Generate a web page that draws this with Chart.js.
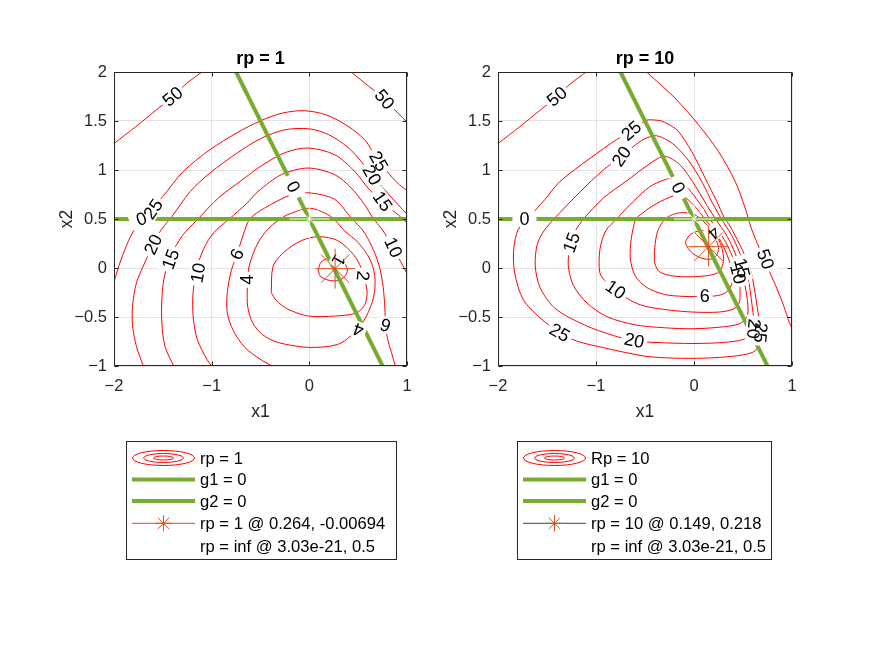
<!DOCTYPE html>
<html>
<head>
<meta charset="utf-8">
<script src="https://cdn.jsdelivr.net/npm/chart.js@4.4.1/dist/chart.umd.min.js"></script>
<style>
  html, body { margin: 0; padding: 0; background: #fff; }
  #wrap { position: relative; width: 875px; height: 656px; }
  canvas { position: absolute; top: 0; }
</style>
</head>
<body>
<div id="wrap">
  <canvas id="left" width="437" height="656" style="left:0"></canvas>
  <canvas id="right" width="438" height="656" style="left:437px"></canvas>
</div>
<script>
// Penalty-function contours, rp = 1 (left) and rp = 10 (right)

const X_TICKS = [-2, -1, 0, 1];
const Y_TICKS = [-1, -0.5, 0, 0.5, 1, 1.5, 2];

// constraint lines g1 = 0 and g2 = 0 (end points)
const g1Line = [[-0.75, 2], [0.75, -1]];
const g2Line = [[-2, 0.5], [1, 0.5]];

// optimum points
const rp1Opt = [0.264, -0.00694];
const rp10Opt = [0.149, 0.218];
const infOpt = [3.03e-21, 0.5];

// contour lines, rp = 1
const rp1Level1 = [[0.09,-0.02],[0.12,0.06],[0.20,0.10],[0.29,0.09],[0.36,0.05],[0.39,-0.02],[0.36,-0.09],[0.28,-0.13],[0.18,-0.12],[0.11,-0.08],[0.09,-0.02]];
const rp1Level2 = [[-0.39,-0.25],[-0.37,0.02],[-0.25,0.17],[-0.08,0.28],[0.10,0.32],[0.29,0.28],[0.45,0.14],[0.53,0.0],[0.59,-0.23],[0.57,-0.37],[0.48,-0.46],[0.26,-0.49],[-0.01,-0.49],[-0.22,-0.42],[-0.34,-0.33],[-0.39,-0.25]];
const rp1Level4 = [[-0.30,0.50],[-0.40,0.42],[-0.50,0.30],[-0.57,0.16],[-0.62,0.0],[-0.635,-0.20],[-0.63,-0.40],[-0.58,-0.56],[-0.48,-0.68],[-0.32,-0.76],[-0.01,-0.81],[0.29,-0.78],[0.46,-0.66],[0.58,-0.50],[0.66,-0.29],[0.67,-0.08],[0.62,0.09],[0.50,0.26],[0.36,0.38],[0.27,0.48],[0.19,0.545],[0.0,0.61],[-0.22,0.545],[-0.30,0.50]];
const rp1Level6 = [[-0.38,-1.0],[-0.505,-0.93],[-0.66,-0.81],[-0.778,-0.64],[-0.84,-0.46],[-0.84,-0.25],[-0.80,-0.03],[-0.74,0.14],[-0.68,0.33],[-0.61,0.50],[-0.46,0.61],[-0.18,0.75],[0.02,0.765],[0.26,0.70],[0.43,0.51],[0.55,0.38],[0.64,0.22],[0.71,0.04],[0.75,-0.15],[0.77,-0.35],[0.78,-0.55],[0.80,-0.72],[0.84,-0.86],[0.88,-1.0]];
const rp1Level10 = [[-1.0,-1.0],[-1.05,-0.93],[-1.147,-0.73],[-1.19,-0.49],[-1.19,-0.25],[-1.15,0.0],[-1.08,0.2],[-0.98,0.36],[-0.82,0.50],[-0.64,0.66],[-0.526,0.78],[-0.287,0.952],[-0.014,1.02],[0.26,0.952],[0.43,0.816],[0.566,0.646],[0.652,0.51],[0.74,0.40],[0.80,0.31],[0.86,0.21],[0.91,0.11],[0.96,0.02],[1.0,-0.06]];
const rp1Level15 = [[-1.39,-1.0],[-1.478,-0.80],[-1.51,-0.56],[-1.51,-0.32],[-1.49,-0.12],[-1.43,0.10],[-1.30,0.33],[-1.14,0.50],[-0.925,0.72],[-0.70,0.89],[-0.48,1.05],[-0.24,1.18],[-0.014,1.224],[0.26,1.156],[0.464,0.986],[0.60,0.816],[0.70,0.72],[0.80,0.63],[0.908,0.544],[1.0,0.46]];
const rp1Level20 = [[-1.70,-1.0],[-1.77,-0.80],[-1.81,-0.59],[-1.81,-0.39],[-1.77,-0.15],[-1.70,0.02],[-1.60,0.24],[-1.51,0.40],[-1.41,0.52],[-1.22,0.78],[-1.017,0.97],[-0.744,1.17],[-0.50,1.32],[-0.25,1.41],[0.0,1.42],[0.20,1.36],[0.396,1.23],[0.53,1.088],[0.64,0.95],[0.77,0.80],[0.908,0.646],[1.0,0.55]];
const rp1Level25 = [[-2.0,-0.14],[-1.93,0.08],[-1.85,0.28],[-1.77,0.43],[-1.70,0.52],[-1.60,0.62],[-1.50,0.73],[-1.29,0.986],[-1.017,1.207],[-0.744,1.378],[-0.505,1.50],[-0.28,1.58],[-0.05,1.605],[0.18,1.56],[0.396,1.446],[0.566,1.31],[0.635,1.207],[0.71,1.09],[0.80,0.98],[0.90,0.87],[1.0,0.79]];
const rp1Level50a = [[-2.0,1.27],[-1.78,1.44],[-1.57,1.61],[-1.40,1.75],[-1.26,1.88],[-1.10,2.0]];
const rp1Level50b = [[0.43,2.0],[0.566,1.888],[0.652,1.82],[0.77,1.72],[0.908,1.58],[1.0,1.49]];

// contour lines, rp = 10
const rp10Level2 = [[-0.09,0.26],[-0.05,0.33],[0.02,0.37],[0.09,0.38],[0.16,0.35],[0.22,0.29],[0.25,0.21],[0.23,0.13],[0.17,0.09],[0.08,0.10],[0.0,0.14],[-0.06,0.20],[-0.09,0.26]];
const rp10Level4 = [[-0.30,0.50],[-0.37,0.38],[-0.40,0.21],[-0.40,0.05],[-0.35,-0.04],[-0.22,-0.08],[-0.05,-0.09],[0.12,-0.08],[0.24,-0.05],[0.29,0.02],[0.30,0.12],[0.27,0.25],[0.20,0.36],[0.13,0.44],[0.06,0.51],[-0.02,0.555],[-0.12,0.565],[-0.22,0.545],[-0.30,0.50]];
const rp10Level6 = [[-0.60,0.50],[-0.64,0.30],[-0.65,0.10],[-0.60,-0.08],[-0.48,-0.20],[-0.30,-0.27],[-0.10,-0.29],[0.11,-0.29],[0.25,-0.28],[0.34,-0.24],[0.39,-0.15],[0.39,-0.03],[0.35,0.10],[0.28,0.26],[0.19,0.40],[0.11,0.50],[0.05,0.58],[-0.03,0.67],[-0.12,0.74],[-0.18,0.745],[-0.30,0.70],[-0.46,0.61],[-0.60,0.50]];
const rp10Level10 = [[-0.79,0.50],[-0.90,0.38],[-0.96,0.19],[-0.96,-0.05],[-0.89,-0.15],[-0.80,-0.22],[-0.65,-0.33],[-0.50,-0.39],[-0.25,-0.43],[0.0,-0.45],[0.25,-0.45],[0.40,-0.42],[0.46,-0.36],[0.47,-0.24],[0.46,-0.10],[0.43,0.0],[0.39,0.12],[0.32,0.27],[0.23,0.41],[0.16,0.50],[0.10,0.60],[0.03,0.70],[-0.05,0.80],[-0.14,0.88],[-0.22,0.91],[-0.30,0.90],[-0.45,0.83],[-0.62,0.68],[-0.79,0.50]];
const rp10Level15 = [[-1.13,0.50],[-1.21,0.38],[-1.25,0.26],[-1.28,0.12],[-1.28,0.0],[-1.23,-0.18],[-1.09,-0.36],[-0.88,-0.50],[-0.60,-0.58],[-0.30,-0.61],[0.0,-0.62],[0.30,-0.60],[0.46,-0.57],[0.54,-0.50],[0.55,-0.38],[0.52,-0.18],[0.47,0.0],[0.42,0.15],[0.34,0.32],[0.22,0.50],[0.15,0.61],[0.06,0.76],[-0.04,0.92],[-0.14,1.05],[-0.22,1.11],[-0.30,1.14],[-0.365,1.12],[-0.50,1.03],[-0.686,0.89],[-0.925,0.714],[-1.13,0.50]];
const rp10Level20 = [[-1.43,0.50],[-1.53,0.38],[-1.60,0.24],[-1.62,0.02],[-1.57,-0.20],[-1.42,-0.41],[-1.12,-0.58],[-0.82,-0.69],[-0.61,-0.74],[-0.40,-0.76],[0.0,-0.77],[0.30,-0.76],[0.50,-0.73],[0.59,-0.67],[0.61,-0.55],[0.59,-0.36],[0.56,-0.15],[0.52,0.0],[0.46,0.17],[0.38,0.34],[0.28,0.50],[0.19,0.66],[0.08,0.88],[-0.058,1.10],[-0.195,1.25],[-0.30,1.32],[-0.40,1.35],[-0.536,1.30],[-0.74,1.14],[-0.925,1.00],[-1.16,0.78],[-1.43,0.50]];
const rp10Level25 = [[-1.70,0.50],[-1.52,0.70],[-1.37,0.88],[-1.06,1.12],[-0.79,1.31],[-0.64,1.40],[-0.485,1.507],[-0.40,1.51],[-0.331,1.50],[-0.25,1.46],[-0.16,1.395],[-0.024,1.19],[0.113,0.918],[0.232,0.68],[0.31,0.51],[0.36,0.44],[0.42,0.33],[0.50,0.17],[0.57,0.0],[0.60,-0.12],[0.63,-0.30],[0.66,-0.50],[0.68,-0.66],[0.67,-0.78],[0.60,-0.86],[0.40,-0.90],[0.10,-0.92],[-0.20,-0.92],[-0.50,-0.90],[-0.925,-0.813],[-1.198,-0.745],[-1.37,-0.66],[-1.573,-0.507],[-1.744,-0.32],[-1.83,-0.05],[-1.84,0.19],[-1.795,0.39],[-1.70,0.50]];
const rp10Level50a = [[-2.0,1.27],[-1.78,1.44],[-1.57,1.61],[-1.40,1.75],[-1.26,1.88],[-1.10,2.0]];
const rp10Level50b = [[-0.485,2.0],[-0.195,1.735],[0.044,1.463],[0.249,1.19],[0.42,0.884],[0.522,0.612],[0.58,0.42],[0.65,0.24],[0.72,0.08],[0.78,-0.06],[0.85,-0.22],[0.92,-0.40],[0.97,-0.55],[1.0,-0.62]];

// contour labels: text, x, y, angle (deg), extra gap
const rp1Labels = [
  ['50', -1.40, 1.75, -40], ['50', 0.77, 1.72, 50], ['25', 0.71, 1.09, 60], ['20', 0.64, 0.95, 60],
  ['15', 0.75, 0.68, 55], ['10', 0.86, 0.21, 65], ['6', 0.78, -0.58, 200], ['4', 0.50, -0.63, 200],
  ['2', 0.55, -0.08, 95], ['1', 0.30, 0.08, 120], ['4', -0.64, -0.12, -90], ['6', -0.74, 0.14, -65],
  ['10', -1.14, -0.05, -80], ['15', -1.42, 0.09, -70], ['20', -1.60, 0.24, -65], ['25', -1.60, 0.60, -55],
  ['0', -1.72, 0.50, -20, 7], ['0', -0.165, 0.83, 63, 7]
];
const rp10Labels = [
  ['50', -1.40, 1.75, -40], ['25', -0.64, 1.40, -40], ['20', -0.74, 1.14, -55], ['15', -1.25, 0.26, -70],
  ['10', -0.80, -0.22, 35], ['25', -1.37, -0.66, 30], ['20', -0.61, -0.74, 12], ['6', 0.11, -0.29, 0],
  ['4', 0.20, 0.36, 140], ['15', 0.49, 0.0, 75], ['10', 0.45, -0.06, 75], ['50', 0.73, 0.09, 70],
  ['20', 0.61, -0.62, 95], ['25', 0.68, -0.66, 95], ['0', -1.73, 0.50, 0, 7], ['0', -0.16, 0.82, 63, 7]
];

const rp1Legend = ['rp = 1', 'g1 = 0', 'g2 = 0', 'rp = 1 @ 0.264, -0.00694', 'rp = inf @ 3.03e-21, 0.5'];
const rp10Legend = ['Rp = 10', 'g1 = 0', 'g2 = 0', 'rp = 10 @ 0.149, 0.218', 'rp = inf @ 3.03e-21, 0.5'];

const FONT = '"Liberation Sans", Arial, Helvetica, sans-serif';
const RED = '#ff0000', GREEN = '#77ac30', ORANGE = '#d95319', AXIS = '#262626';

const toXY = pts => pts.map(p => ({ x: p[0], y: p[1] }));
const fmt = v => (v < 0 ? '\u2212' + Math.abs(v) : String(v));

function drawLabels(chart, list) {
  const ctx = chart.ctx, sx = chart.scales.x, sy = chart.scales.y;
  ctx.save();
  ctx.font = '18px ' + FONT;
  ctx.textAlign = 'center';
  ctx.textBaseline = 'middle';
  const items = list.map(([t, x, y, ang, pad]) => ({
    t, px: sx.getPixelForValue(x), py: sy.getPixelForValue(y),
    r: ang * Math.PI / 180, w: ctx.measureText(t).width + 2 * (pad || 3)
  }));
  // white gaps first, then the numbers
  items.forEach(it => {
    ctx.save(); ctx.translate(it.px, it.py); ctx.rotate(it.r);
    ctx.fillStyle = '#fff'; ctx.fillRect(-it.w / 2, -8, it.w, 16);
    ctx.restore();
  });
  items.forEach(it => {
    ctx.save(); ctx.translate(it.px, it.py); ctx.rotate(it.r);
    ctx.fillStyle = '#000'; ctx.fillText(it.t, 0, 1);
    ctx.restore();
  });
  ctx.restore();
}

function starPath(ctx, x, y, r) {
  const d = r * Math.SQRT1_2;
  ctx.beginPath();
  ctx.moveTo(x - r, y); ctx.lineTo(x + r, y);
  ctx.moveTo(x, y - r); ctx.lineTo(x, y + r);
  ctx.moveTo(x - d, y - d); ctx.lineTo(x + d, y + d);
  ctx.moveTo(x - d, y + d); ctx.lineTo(x + d, y - d);
  ctx.stroke();
}

function drawLegend(ctx, box, texts, lineColor) {
  const rows = [458, 479.5, 501, 523.3, 546];
  const ix0 = box.x + 6, ix1 = box.x + 69, icx = (ix0 + ix1) / 2;
  ctx.save();
  ctx.fillStyle = '#fff';
  ctx.fillRect(box.x, box.y, box.w, box.h);
  ctx.strokeStyle = AXIS; ctx.lineWidth = 1;
  ctx.strokeRect(box.x + 0.5, box.y + 0.5, box.w, box.h);
  // contour icon
  ctx.strokeStyle = RED;
  [[31, 7.5], [20, 4.5], [10, 2]].forEach(([rx, ry]) => {
    ctx.beginPath(); ctx.ellipse(icx, rows[0], rx, ry, 0, 0, Math.PI * 2); ctx.stroke();
  });
  // constraint lines
  ctx.strokeStyle = GREEN; ctx.lineWidth = 4;
  [rows[1], rows[2]].forEach(y => { ctx.beginPath(); ctx.moveTo(ix0, y); ctx.lineTo(ix1, y); ctx.stroke(); });
  // optimum marker
  ctx.lineWidth = 1; ctx.strokeStyle = lineColor;
  ctx.beginPath(); ctx.moveTo(ix0, rows[3]); ctx.lineTo(ix1, rows[3]); ctx.stroke();
  ctx.strokeStyle = ORANGE;
  starPath(ctx, icx, rows[3], 8);
  ctx.fillStyle = '#000';
  ctx.font = '16.6px ' + FONT;
  ctx.textAlign = 'left'; ctx.textBaseline = 'middle';
  texts.forEach((t, i) => ctx.fillText(t, box.x + 74, rows[i] + 1));
  ctx.restore();
}

function makeChart(id, cfg) {
  const datasets = cfg.contours.map(c => ({
    data: toXY(c), showLine: true, borderColor: RED, borderWidth: 1,
    pointRadius: 0, tension: 0.3, fill: false, order: 10
  }));
  datasets.push({ tag: 'g2', data: toXY(g2Line), showLine: true, borderColor: GREEN, borderWidth: 4, pointRadius: 0, order: 6 });
  datasets.push({ tag: 'g1', data: toXY(g1Line), showLine: true, borderColor: GREEN, borderWidth: 4, pointRadius: 0, order: 5 });
  datasets.push({ data: toXY([cfg.opt]), showLine: false, pointStyle: 'star', pointRadius: 20,
    pointBorderColor: ORANGE, pointBackgroundColor: ORANGE, pointBorderWidth: 1, order: 2 });
  datasets.push({ data: toXY([infOpt]), showLine: false, pointStyle: 'star', pointRadius: 20,
    pointBorderColor: '#ffffff', pointBackgroundColor: '#ffffff', pointBorderWidth: 1, order: 1 });

  const decor = {
    id: 'decor',
    afterDatasetDraw(chart, args) {
      if (chart.data.datasets[args.index].tag === 'g1') drawLabels(chart, cfg.labels);
    },
    afterDraw(chart) {
      const ctx = chart.ctx, a = chart.chartArea, sx = chart.scales.x, sy = chart.scales.y;
      ctx.save();
      ctx.strokeStyle = AXIS; ctx.lineWidth = 1;
      const L = Math.round(a.left) + 0.5, R = Math.round(a.right) - 0.5;
      const T = Math.round(a.top) + 0.5, B = Math.round(a.bottom) - 0.5;
      ctx.strokeRect(L, T, R - L, B - T);
      ctx.beginPath();
      X_TICKS.forEach(v => {
        const p = Math.round(sx.getPixelForValue(v)) + 0.5;
        ctx.moveTo(p, B); ctx.lineTo(p, B - 4);
        ctx.moveTo(p, T); ctx.lineTo(p, T + 4);
      });
      Y_TICKS.forEach(v => {
        const p = Math.round(sy.getPixelForValue(v)) + 0.5;
        ctx.moveTo(L, p); ctx.lineTo(L + 4, p);
        ctx.moveTo(R, p); ctx.lineTo(R - 4, p);
      });
      ctx.stroke();
      const cx = (a.left + a.right) / 2, cy = (a.top + a.bottom) / 2;
      ctx.fillStyle = '#000';
      ctx.textAlign = 'center'; ctx.textBaseline = 'alphabetic';
      ctx.font = 'bold 18px ' + FONT;
      ctx.fillText(cfg.title, cx, 64);
      ctx.fillStyle = AXIS;
      ctx.font = '17.5px ' + FONT;
      ctx.fillText('x1', cx, 417);
      ctx.translate(a.left - 42, cy); ctx.rotate(-Math.PI / 2);
      ctx.fillText('x2', 0, 0);
      ctx.restore();
      drawLegend(ctx, cfg.legendBox, cfg.legend, cfg.legendLine);
    }
  };

  return new Chart(document.getElementById(id), {
    type: 'scatter',
    data: { datasets },
    options: {
      responsive: false,
      animation: false,
      events: [],
      layout: { padding: cfg.padding },
      plugins: { legend: { display: false }, tooltip: { enabled: false }, title: { display: false } },
      scales: {
        x: {
          type: 'linear', min: -2, max: 1,
          afterBuildTicks: s => { s.ticks = X_TICKS.map(v => ({ value: v })); },
          afterFit: s => { s.height = 50; },
          ticks: { autoSkip: false, maxRotation: 0, padding: 11, color: AXIS, font: { family: FONT, size: 16.5 }, callback: fmt },
          grid: { color: '#e3e3e3', drawTicks: false },
          border: { display: false }
        },
        y: {
          type: 'linear', min: -1, max: 2,
          afterBuildTicks: s => { s.ticks = Y_TICKS.map(v => ({ value: v })); },
          afterFit: s => { s.width = cfg.yWidth; },
          ticks: { autoSkip: false, padding: 7, color: AXIS, font: { family: FONT, size: 16.5 }, callback: fmt },
          grid: { color: '#e3e3e3', drawTicks: false },
          border: { display: false }
        }
      }
    },
    plugins: [decor]
  });
}

makeChart('left', {
  title: 'rp = 1',
  contours: [rp1Level1, rp1Level2, rp1Level4, rp1Level6, rp1Level10, rp1Level15, rp1Level20, rp1Level25, rp1Level50a, rp1Level50b],
  labels: rp1Labels,
  opt: rp1Opt,
  padding: { left: 0, right: 30, top: 72, bottom: 240 },
  yWidth: 114,
  legend: rp1Legend,
  legendLine: ORANGE,
  legendBox: { x: 126, y: 441, w: 270, h: 118 }
});

makeChart('right', {
  title: 'rp = 10',
  contours: [rp10Level2, rp10Level4, rp10Level6, rp10Level10, rp10Level15, rp10Level20, rp10Level25, rp10Level50a, rp10Level50b],
  labels: rp10Labels,
  opt: rp10Opt,
  padding: { left: 0, right: 83, top: 72, bottom: 240 },
  yWidth: 61,
  legend: rp10Legend,
  legendLine: '#404040',
  legendBox: { x: 80, y: 441, w: 254, h: 118 }
});
</script>
</body>
</html>
